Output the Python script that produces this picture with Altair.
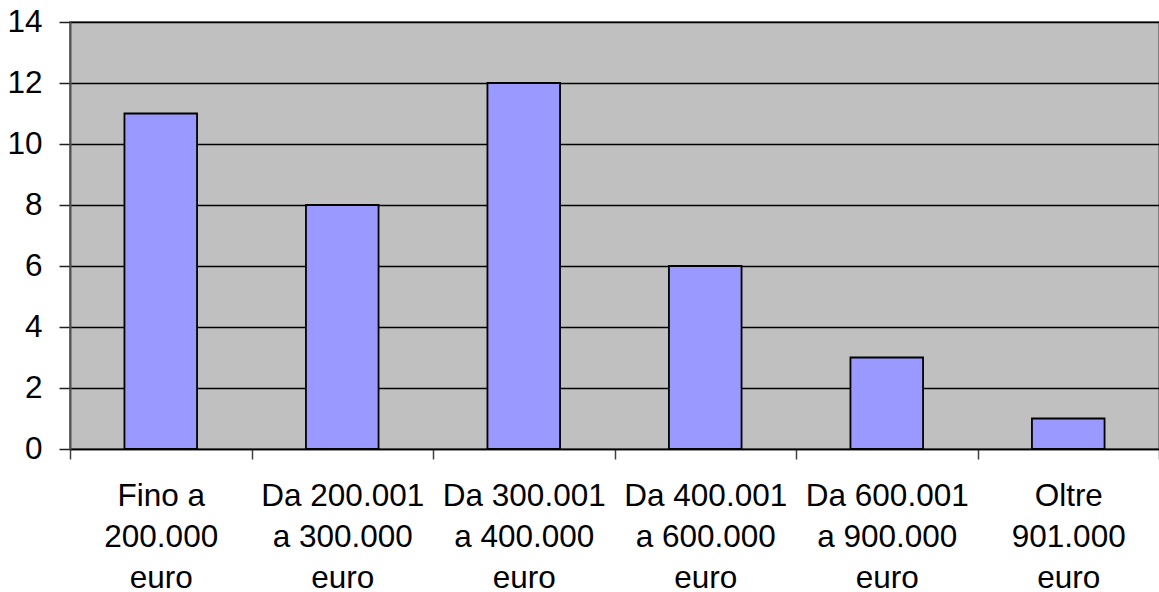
import altair as alt
import pandas as pd

# Price brackets (three text lines each) and number of cases per bracket
categories = [
    "Fino a\n200.000\neuro",
    "Da 200.001\na 300.000\neuro",
    "Da 300.001\na 400.000\neuro",
    "Da 400.001\na 600.000\neuro",
    "Da 600.001\na 900.000\neuro",
    "Oltre\n901.000\neuro",
]
counts = [11, 8, 12, 6, 3, 1]
y_ticks = [0, 2, 4, 6, 8, 10, 12, 14]

df = pd.DataFrame({"fascia": categories, "valore": counts})

FONT = "Liberation Sans"

chart = (
    alt.Chart(df)
    .mark_bar(
        color="#9999FF",
        stroke="#000000",
        strokeWidth=1.8,
        width=alt.RelativeBandSize(0.4),
    )
    .encode(
        x=alt.X(
            "fascia:N",
            sort=categories,
            title=None,
            scale=alt.Scale(paddingInner=0, paddingOuter=0),
            axis=alt.Axis(
                labelAngle=0,
                labelExpr="split(datum.label, '\\n')",
                labelFont=FONT,
                labelFontSize=31.5,
                labelLineHeight=41,
                labelColor="#000000",
                labelPadding=21,
                labelLimit=400,
                tickBand="extent",
                tickSize=10,
                tickColor="#404040",
                tickWidth=1.5,
                domainColor="#000000",
                domainWidth=1.5,
                grid=False,
            ),
        ),
        y=alt.Y(
            "valore:Q",
            title=None,
            scale=alt.Scale(domain=[0, 14], nice=False),
            axis=alt.Axis(
                values=y_ticks,
                labelFont=FONT,
                labelFontSize=31.5,
                labelColor="#000000",
                labelPadding=17,
                tickSize=11,
                tickColor="#202020",
                tickWidth=1.5,
                domainColor="#505050",
                domainWidth=2,
                grid=True,
                gridColor="#000000",
                gridWidth=1.3,
            ),
        ),
    )
    .properties(
        width=1089,
        height=427,
        background="#FFFFFF",
        padding={"left": 70, "top": 22, "right": 0, "bottom": 143},
        autosize=alt.AutoSizeParams(type="none"),
    )
    .configure_view(fill="#C0C0C0", stroke="#808080", strokeWidth=2)
)

chart.save("out.html", embed_options={"renderer": "svg", "actions": False})
